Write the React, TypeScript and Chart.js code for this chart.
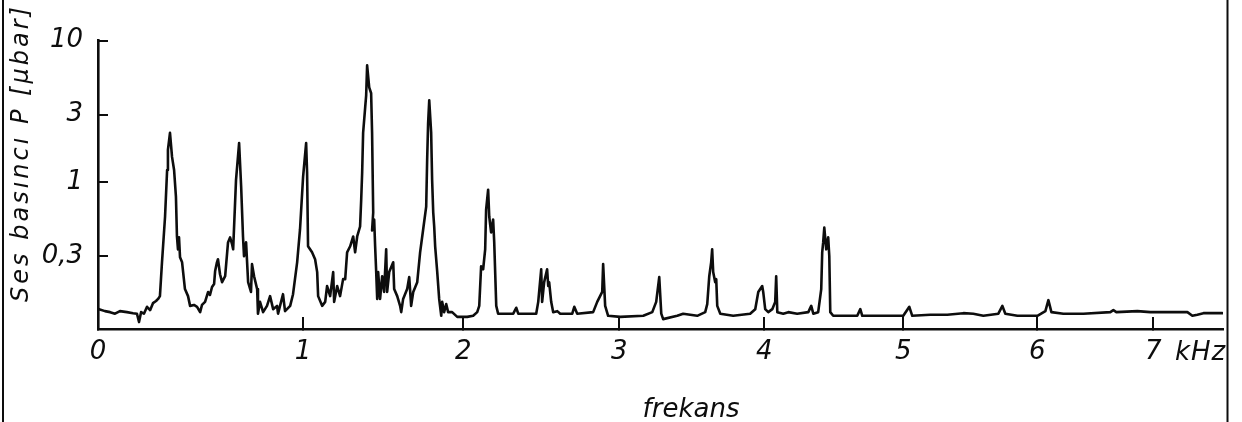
import React, { useEffect, useRef } from 'react';
import { Chart, registerables, LinearScale } from 'chart.js';

Chart.register(...registerables);

// Spectrum trace: frequency in kHz and sound pressure in μbar, in drawing order
const FREQ_KHZ = [
  0.005, 0.034, 0.059, 0.083, 0.107, 0.141, 0.171, 0.190, 0.200, 0.210,
  0.224, 0.239, 0.254, 0.268, 0.283, 0.293, 0.302, 0.312, 0.327, 0.337,
  0.341, 0.351, 0.361, 0.371, 0.380, 0.385, 0.390, 0.395, 0.400, 0.410,
  0.424, 0.439, 0.449, 0.468, 0.483, 0.498, 0.507, 0.522, 0.537, 0.546,
  0.556, 0.566, 0.571, 0.580, 0.585, 0.595, 0.605, 0.620, 0.634, 0.644,
  0.654, 0.659, 0.673, 0.688, 0.698, 0.707, 0.712, 0.722, 0.732, 0.746,
  0.751, 0.761, 0.776, 0.780, 0.790, 0.805, 0.824, 0.839, 0.854, 0.873,
  0.878, 0.902, 0.912, 0.937, 0.951, 0.971, 0.985, 1.000, 1.019, 1.025,
  1.031, 1.056, 1.075, 1.088, 1.094, 1.119, 1.138, 1.150, 1.169, 1.188,
  1.194, 1.213, 1.231, 1.250, 1.263, 1.275, 1.294, 1.313, 1.325, 1.338,
  1.356, 1.363, 1.369, 1.375, 1.388, 1.394, 1.400, 1.413, 1.425, 1.431,
  1.438, 1.431, 1.444, 1.450, 1.456, 1.463, 1.469, 1.481, 1.494, 1.506,
  1.519, 1.525, 1.538, 1.563, 1.569, 1.588, 1.606, 1.613, 1.625, 1.650,
  1.663, 1.675, 1.688, 1.713, 1.731, 1.750, 1.769, 1.775, 1.781, 1.788,
  1.800, 1.806, 1.813, 1.819, 1.825, 1.838, 1.850, 1.863, 1.869, 1.881,
  1.894, 1.906, 1.931, 1.963, 2.026, 2.064, 2.090, 2.103, 2.115, 2.128,
  2.141, 2.147, 2.160, 2.167, 2.179, 2.192, 2.199, 2.212, 2.224, 2.321,
  2.340, 2.353, 2.468, 2.481, 2.500, 2.506, 2.519, 2.538, 2.545, 2.551,
  2.564, 2.577, 2.603, 2.622, 2.699, 2.712, 2.731, 2.833, 2.859, 2.891,
  2.897, 2.910, 2.929, 3.007, 3.166, 3.228, 3.255, 3.276, 3.290, 3.303,
  3.400, 3.441, 3.538, 3.593, 3.607, 3.621, 3.634, 3.641, 3.648, 3.662,
  3.669, 3.676, 3.697, 3.786, 3.903, 3.938, 3.959, 3.986, 3.993, 4.007,
  4.029, 4.058, 4.079, 4.086, 4.094, 4.137, 4.173, 4.237, 4.317, 4.338,
  4.353, 4.388, 4.410, 4.417, 4.424, 4.432, 4.446, 4.460, 4.468, 4.475,
  4.496, 4.669, 4.691, 4.705, 5.000, 5.045, 5.067, 5.201, 5.328, 5.448,
  5.522, 5.597, 5.709, 5.739, 5.761, 5.851, 6.000, 6.069, 6.095, 6.121,
  6.224, 6.397, 6.629, 6.655, 6.681, 6.862, 6.974, 7.207, 7.293, 7.336,
  7.379, 7.431, 7.595,
];

const PRESSURE_UBAR = [
  0.127, 0.123, 0.121, 0.118, 0.123, 0.121, 0.119, 0.118, 0.103, 0.121,
  0.118, 0.132, 0.125, 0.140, 0.145, 0.150, 0.157, 0.272, 0.573, 1.22,
  1.69, 2.23, 1.51, 1.22, 0.791, 0.414, 0.336, 0.408, 0.295, 0.272,
  0.176, 0.157, 0.134, 0.136, 0.132, 0.121, 0.136, 0.143, 0.168, 0.160,
  0.182, 0.191, 0.235, 0.272, 0.286, 0.224, 0.197, 0.217, 0.376, 0.408,
  0.364, 0.336, 1.04, 1.89, 0.930, 0.414, 0.300, 0.376, 0.197, 0.168,
  0.264, 0.217, 0.176, 0.118, 0.143, 0.121, 0.134, 0.157, 0.127, 0.134,
  0.118, 0.162, 0.123, 0.134, 0.162, 0.272, 0.464, 1.09, 1.89, 1.17,
  0.353, 0.320, 0.286, 0.232, 0.157, 0.134, 0.143, 0.185, 0.157, 0.232,
  0.143, 0.185, 0.157, 0.207, 0.207, 0.320, 0.353, 0.414, 0.320, 0.414,
  0.487, 0.754, 1.17, 2.23, 3.39, 4.11, 6.68, 4.68, 4.25, 2.23,
  0.611, 0.457, 0.546, 0.353, 0.243, 0.150, 0.232, 0.150, 0.217, 0.168,
  0.336, 0.168, 0.232, 0.272, 0.176, 0.157, 0.134, 0.121, 0.150, 0.176,
  0.214, 0.134, 0.168, 0.197, 0.320, 0.464, 0.673, 1.44, 2.62, 3.79,
  2.23, 1.04, 0.611, 0.487, 0.353, 0.232, 0.150, 0.114, 0.143, 0.121,
  0.138, 0.121, 0.121, 0.112, 0.112, 0.114, 0.121, 0.134, 0.255, 0.243,
  0.336, 0.641, 0.886, 0.573, 0.442, 0.546, 0.376, 0.134, 0.118, 0.118,
  0.130, 0.118, 0.118, 0.143, 0.243, 0.143, 0.197, 0.243, 0.185, 0.197,
  0.143, 0.121, 0.123, 0.118, 0.118, 0.132, 0.118, 0.121, 0.143, 0.168,
  0.264, 0.134, 0.114, 0.112, 0.114, 0.121, 0.143, 0.214, 0.118, 0.108,
  0.114, 0.118, 0.114, 0.121, 0.138, 0.217, 0.272, 0.336, 0.232, 0.197,
  0.207, 0.134, 0.118, 0.114, 0.118, 0.127, 0.168, 0.185, 0.168, 0.127,
  0.121, 0.127, 0.143, 0.217, 0.121, 0.118, 0.121, 0.118, 0.121, 0.134,
  0.118, 0.121, 0.176, 0.320, 0.376, 0.479, 0.336, 0.408, 0.300, 0.121,
  0.114, 0.114, 0.127, 0.114, 0.114, 0.132, 0.114, 0.116, 0.116, 0.119,
  0.118, 0.114, 0.118, 0.134, 0.118, 0.114, 0.114, 0.123, 0.147, 0.121,
  0.118, 0.118, 0.121, 0.125, 0.121, 0.123, 0.121, 0.121, 0.121, 0.114,
  0.116, 0.119, 0.119,
];

const X_TICK_VALUES = [0, 1, 2, 3, 4, 5, 6, 7];
const X_TICK_LABELS = ['0', '1', '2', '3', '4', '5', '6', '7'];
const Y_TICK_VALUES = [0.3, 1, 3, 10];
const Y_TICK_LABELS = ['0,3', '1', '3', '10'];
const X_UNIT = 'kHz';
const X_TITLE = 'frekans';
const Y_TITLE = 'Ses basıncı P [μbar]';

const INK = '#0d0d0d';
const FONT_FAMILY = '"DejaVu Sans", sans-serif';

// The analyser's frequency axis is not uniform: each stop says at which
// fraction of the axis length a given frequency is printed.
const AXIS_STOPS_KHZ = [0, 1, 2, 3, 4, 5, 6, 7, 7.6];
const AXIS_STOPS_FRACTION = [0, 0.1823, 0.3246, 0.4633, 0.5922, 0.7158, 0.835, 0.9381, 1];

function interpolate(v: number, from: number[], to: number[]): number {
  const n = from.length;
  if (v <= from[0]) {
    return to[0] + ((v - from[0]) * (to[1] - to[0])) / (from[1] - from[0]);
  }
  for (let i = 1; i < n; i++) {
    if (v <= from[i]) {
      const t = (v - from[i - 1]) / (from[i] - from[i - 1]);
      return to[i - 1] + t * (to[i] - to[i - 1]);
    }
  }
  return to[n - 2] + ((v - from[n - 2]) * (to[n - 1] - to[n - 2])) / (from[n - 1] - from[n - 2]);
}

class AnalyserFrequencyScale extends LinearScale {
  static id = 'analyserFrequency';

  getPixelForValue(value: number) {
    return this.getPixelForDecimal(interpolate(value, AXIS_STOPS_KHZ, AXIS_STOPS_FRACTION));
  }

  getValueForPixel(pixel: number) {
    return interpolate(this.getDecimalForPixel(pixel), AXIS_STOPS_FRACTION, AXIS_STOPS_KHZ);
  }
}

Chart.register(AnalyserFrequencyScale as any);

// Axis titles, unit and the side rules of the sheet
const sheetTextPlugin = {
  id: 'sheetText',
  afterDraw(chart: any) {
    const { ctx } = chart;
    ctx.save();
    ctx.strokeStyle = INK;
    ctx.fillStyle = INK;

    ctx.lineWidth = 2;
    ctx.beginPath();
    ctx.moveTo(3, 0);
    ctx.lineTo(3, chart.height);
    ctx.moveTo(1227.5, 0);
    ctx.lineTo(1227.5, chart.height);
    ctx.stroke();

    ctx.save();
    ctx.font = `italic 24px ${FONT_FAMILY}`;
    (ctx as any).letterSpacing = '3px';
    ctx.translate(28, 153);
    ctx.rotate(-Math.PI / 2);
    ctx.textAlign = 'center';
    ctx.textBaseline = 'alphabetic';
    ctx.fillText(Y_TITLE, 0, 0);
    ctx.restore();

    ctx.font = `italic 26px ${FONT_FAMILY}`;
    (ctx as any).letterSpacing = '0px';
    ctx.textAlign = 'center';
    ctx.textBaseline = 'alphabetic';
    ctx.fillText(X_TITLE, 691, 417);

    (ctx as any).letterSpacing = '1px';
    ctx.textAlign = 'left';
    ctx.textBaseline = 'middle';
    ctx.fillText(X_UNIT, 1175, 353);
    ctx.restore();
  },
};

export default function App() {
  const canvasRef = useRef<HTMLCanvasElement | null>(null);

  useEffect(() => {
    const canvas = canvasRef.current;
    if (!canvas) return;
    const points = FREQ_KHZ.map((f, i) => ({ x: f, y: PRESSURE_UBAR[i] }));

    const tickFont = { family: FONT_FAMILY, size: 26, style: 'italic' as const };

    const chart = new Chart(canvas, {
      type: 'line',
      data: {
        datasets: [
          {
            data: points,
            borderColor: INK,
            borderWidth: 2.6,
            pointRadius: 0,
            tension: 0,
            fill: false,
            borderJoinStyle: 'round',
            borderCapStyle: 'round',
          },
        ],
      },
      options: {
        animation: false,
        responsive: false,
        events: [],
        layout: { padding: { top: 40, right: 19, bottom: 0, left: 0 } },
        plugins: {
          legend: { display: false },
          tooltip: { enabled: false },
        },
        scales: {
          x: {
            type: 'analyserFrequency' as any,
            min: 0,
            max: 7.6,
            afterBuildTicks: (scale: any) => {
              scale.ticks = X_TICK_VALUES.map((v) => ({ value: v }));
            },
            afterFit: (scale: any) => {
              scale.height = 93;
            },
            ticks: {
              autoSkip: false,
              maxRotation: 0,
              padding: 20,
              color: INK,
              font: tickFont,
              callback: (_v: any, i: number) => X_TICK_LABELS[i],
            },
            grid: {
              display: true,
              drawOnChartArea: false,
              drawTicks: true,
              tickLength: -12,
              color: INK,
              lineWidth: 2,
            },
            border: { display: true, color: INK, width: 2.6 },
          },
          y: {
            type: 'logarithmic',
            min: 0.092,
            max: 10,
            afterBuildTicks: (scale: any) => {
              scale.ticks = Y_TICK_VALUES.map((v) => ({ value: v }));
            },
            afterFit: (scale: any) => {
              scale.width = 98;
            },
            ticks: {
              autoSkip: false,
              padding: 25,
              color: INK,
              font: tickFont,
              callback: (_v: any, i: number) => Y_TICK_LABELS[i],
            },
            grid: {
              display: true,
              drawOnChartArea: false,
              drawTicks: true,
              tickLength: -10,
              color: INK,
              lineWidth: 2,
            },
            border: { display: true, color: INK, width: 2.6 },
          },
        },
      },
      plugins: [sheetTextPlugin],
    });

    return () => chart.destroy();
  }, []);

  return (
    <div style={{ position: 'fixed', left: 0, top: 0, width: 1242, height: 422, background: '#fff' }}>
      <canvas ref={canvasRef} width={1242} height={422} style={{ display: 'block' }} />
    </div>
  );
}
